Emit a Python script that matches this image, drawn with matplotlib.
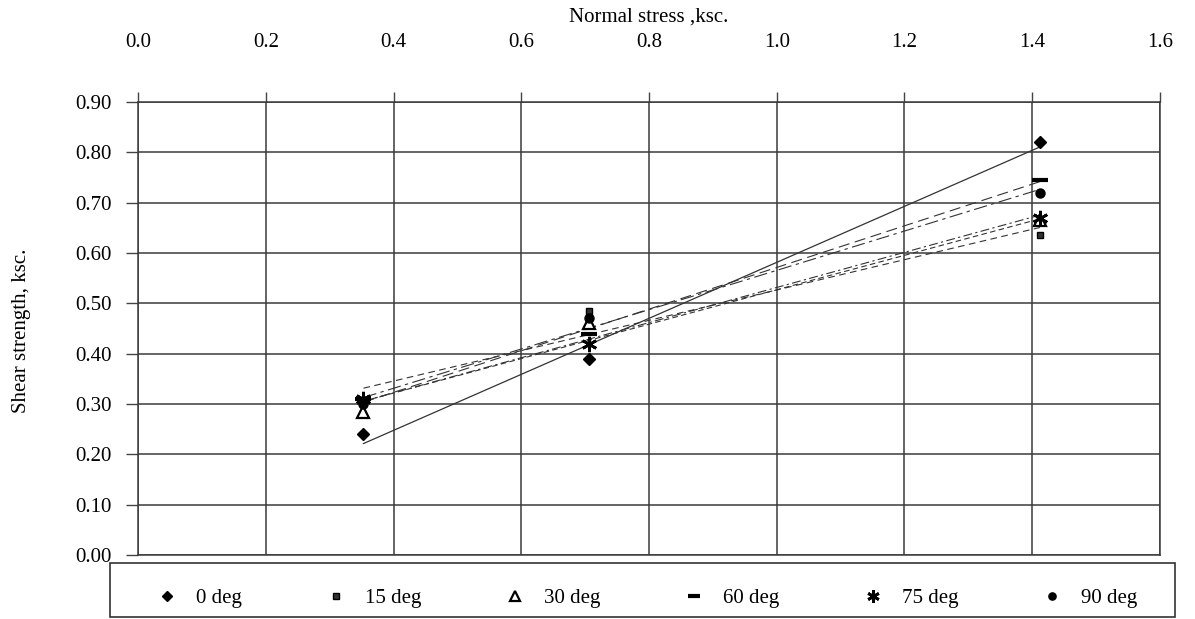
import numpy as np
import matplotlib
matplotlib.use("Agg")
import matplotlib.pyplot as plt
from matplotlib.patches import Rectangle

plt.rcParams['font.family'] = ['Liberation Serif', 'DejaVu Serif']

# normal stress (ksc) and shear strength (ksc) for each joint angle
normal_stress = [0.353, 0.706, 1.412]
deg0 = [0.24, 0.39, 0.82]
deg15 = [0.30, 0.485, 0.635]
deg30 = [0.285, 0.46, 0.665]
deg60 = [0.31, 0.44, 0.745]
deg75 = [0.31, 0.42, 0.67]
deg90 = [0.30, 0.47, 0.72]
labels = ['0 deg', '15 deg', '30 deg', '60 deg', '75 deg', '90 deg']
x_ticks = [0.0, 0.2, 0.4, 0.6, 0.8, 1.0, 1.2, 1.4, 1.6]
y_ticks = [0.0, 0.1, 0.2, 0.3, 0.4, 0.5, 0.6, 0.7, 0.8, 0.9]

series = [deg0, deg15, deg30, deg60, deg75, deg90]
markers = [
    dict(marker='D', ms=6, mfc='k', mec='k'),
    dict(marker='s', ms=5, mfc='#333', mec='k'),
    dict(marker='^', ms=9, mfc='white', mec='k', mew=1.6),
    dict(marker='_', ms=11, mec='k', mew=3),
    dict(marker=(6, 2, 0), ms=11, mec='k', mew=2),
    dict(marker='o', ms=6.5, mfc='k', mec='k'),
]
trend_styles = [
    dict(ls='-', lw=0.9),
    dict(ls=(0, (6, 4)), lw=0.8),
    dict(ls=(0, (8, 3, 2, 3)), lw=0.8),
    dict(ls=(0, (10, 5)), lw=0.8),
    dict(ls=(0, (5, 3)), lw=0.8),
    dict(ls=(0, (12, 4, 3, 4)), lw=0.8),
]

fig = plt.figure(figsize=(11.95, 6.19), dpi=100)
ax = fig.add_axes([0.1155, 0.1034, 0.8552, 0.7318])

xs = np.array(normal_stress)
for ys, lab, mk, st in zip(series, labels, markers, trend_styles):
    # least-squares line through the three tests
    k, b = np.polyfit(xs, ys, 1)
    ax.plot([xs[0], xs[-1]], [k * xs[0] + b, k * xs[-1] + b], color='#333', **st, zorder=2)
for ys, lab, mk in zip(series, labels, markers):
    ax.plot(xs, ys, ls='none', label=lab, zorder=3, **mk)

ax.set_xlim(0, 1.6)
ax.set_ylim(0, 0.9)
ax.set_xticks(x_ticks)
ax.set_yticks(y_ticks)
ax.set_xticklabels([f'{v:.1f}' for v in x_ticks])
ax.set_yticklabels([f'{v:.2f}' for v in y_ticks])
ax.xaxis.tick_top()
ax.xaxis.set_label_position('top')
ax.tick_params(axis='x', direction='out', length=7, width=1, color='#444', pad=29, labelsize=15)
ax.tick_params(axis='y', direction='out', length=9, width=1, color='#444', pad=10, labelsize=15)
ax.set_xlabel('Normal stress ,ksc.', fontsize=15, labelpad=8)
ax.grid(True, color='#3a3a3a', lw=1.1)
for sp in ax.spines.values():
    sp.set_color('#3a3a3a')
    sp.set_linewidth(1.1)

fig.text(0.018, 0.465, 'Shear strength, ksc.', rotation=90, va='center', ha='center', fontsize=15)

# legend box below the plot, entries spread across it
fig.add_artist(Rectangle((0.092, 0.004), 0.891, 0.087, transform=fig.transFigure,
                         fill=False, ec='#333', lw=1.2))
leg = fig.legend(loc='lower left', bbox_to_anchor=(0.1155, 0.004, 0.843, 0.087), mode='expand',
                 ncol=6, frameon=False, fontsize=15, handletextpad=0.4,
                 borderaxespad=0, markerscale=0.8)

fig.savefig('out.png', dpi=100)
